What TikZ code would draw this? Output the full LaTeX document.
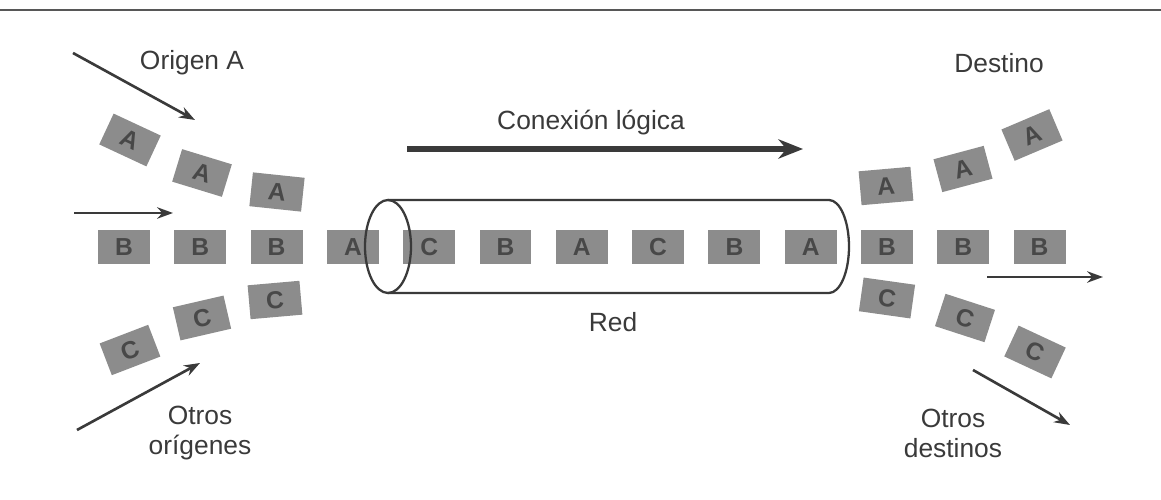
\documentclass[tikz,border=0pt]{standalone}
\usepackage{fontspec}
\setmainfont{Liberation Sans}
\usepackage{tikz}
\usetikzlibrary{arrows.meta}

\definecolor{ink}{HTML}{3A3A3A}
\definecolor{cellgray}{HTML}{8C8C8C}
\definecolor{cellink}{HTML}{484848}

\begin{document}
\begin{tikzpicture}[x=0.02cm,y=0.02cm,>={Stealth[length=9pt,width=6.5pt]},
  pkt/.style={fill=cellgray,text=cellink,minimum width=1.04cm,minimum height=0.68cm,inner sep=0pt,font=\fontsize{14}{14}\selectfont\bfseries},
  lbl/.style={text=ink,align=center,font=\fontsize{15}{17}\selectfont},
  flow/.style={->,draw=ink,line width=1.5pt}]
\useasboundingbox (0,0) rectangle (1161,500);
\draw[ink!85,line width=1.3pt] (0,490) -- (1161,490);

% paquetes que llegan de los origenes
\node[pkt,rotate=-25] (a1) at (130,360) {A};
\node[pkt,rotate=-17] (a2) at (202,327) {A};
\node[pkt,rotate=-6] (a3) at (277,308) {A};
\node[pkt,rotate=21] (c1) at (130,150) {C};
\node[pkt,rotate=13] (c2) at (202,182) {C};
\node[pkt,rotate=5] (c3) at (275,200) {C};

% fila central
\node[pkt] (m1) at (124,253) {B};
\node[pkt] (m2) at (200.3,253) {B};
\node[pkt] (m3) at (276.6,253) {B};
\node[pkt] (m4) at (352.9,253) {A};
\node[pkt] (m5) at (429.2,253) {C};
\node[pkt] (m6) at (505.5,253) {B};
\node[pkt] (m7) at (581.8,253) {A};
\node[pkt] (m8) at (658.1,253) {C};
\node[pkt] (m9) at (734.4,253) {B};
\node[pkt] (m10) at (810.7,253) {A};
\node[pkt] (m11) at (887,253) {B};
\node[pkt] (m12) at (963.3,253) {B};
\node[pkt] (m13) at (1039.6,253) {B};

% paquetes que salen hacia los destinos
\node[pkt,rotate=5] (a4) at (886,314) {A};
\node[pkt,rotate=15] (a5) at (963,331) {A};
\node[pkt,rotate=23] (a6) at (1032,365) {A};
\node[pkt,rotate=-8] (c4) at (887,202) {C};
\node[pkt,rotate=-18] (c5) at (965,182) {C};
\node[pkt,rotate=-25] (c6) at (1035,148) {C};

% la red como tubo
\draw[ink,line width=1.3pt] (388,253.5) ellipse [x radius=23,y radius=46.5];
\draw[ink,line width=1.3pt] (388,300) -- (829,300)
  arc[start angle=90,end angle=-90,x radius=20,y radius=46.5] -- (388,207);

% textos
\node[lbl] (origen) at (192,437) {Origen A};
\node[lbl] (destino) at (999,437) {Destino};
\node[lbl] (conexion) at (591,377) {Conexión lógica};
\node[lbl] (red) at (613,178) {Red};
\node[lbl] (otrosor) at (200,67) {Otros\\orígenes};
\node[lbl] (otrosde) at (953,67) {Otros\\destinos};

% flechas
\coordinate (inA0) at (73,447);
\coordinate (inA1) at (195,380);
\coordinate (inB0) at (74,287);
\coordinate (inB1) at (173,287);
\coordinate (inC0) at (77,70);
\coordinate (inC1) at (200,137);
\coordinate (cx0) at (407,351);
\coordinate (cx1) at (803,351);
\coordinate (outB0) at (987,223);
\coordinate (outB1) at (1103,223);
\coordinate (outC0) at (973,130);
\coordinate (outC1) at (1070,75);
\draw[flow] (inA0) -- (inA1);
\draw[flow] (inB0) -- (inB1);
\draw[flow] (inC0) -- (inC1);
\draw[flow,line width=3pt,-{Stealth[length=14pt,width=11pt]}] (cx0) -- (cx1);
\draw[flow] (outB0) -- (outB1);
\draw[flow] (outC0) -- (outC1);
\end{tikzpicture}
\end{document}
